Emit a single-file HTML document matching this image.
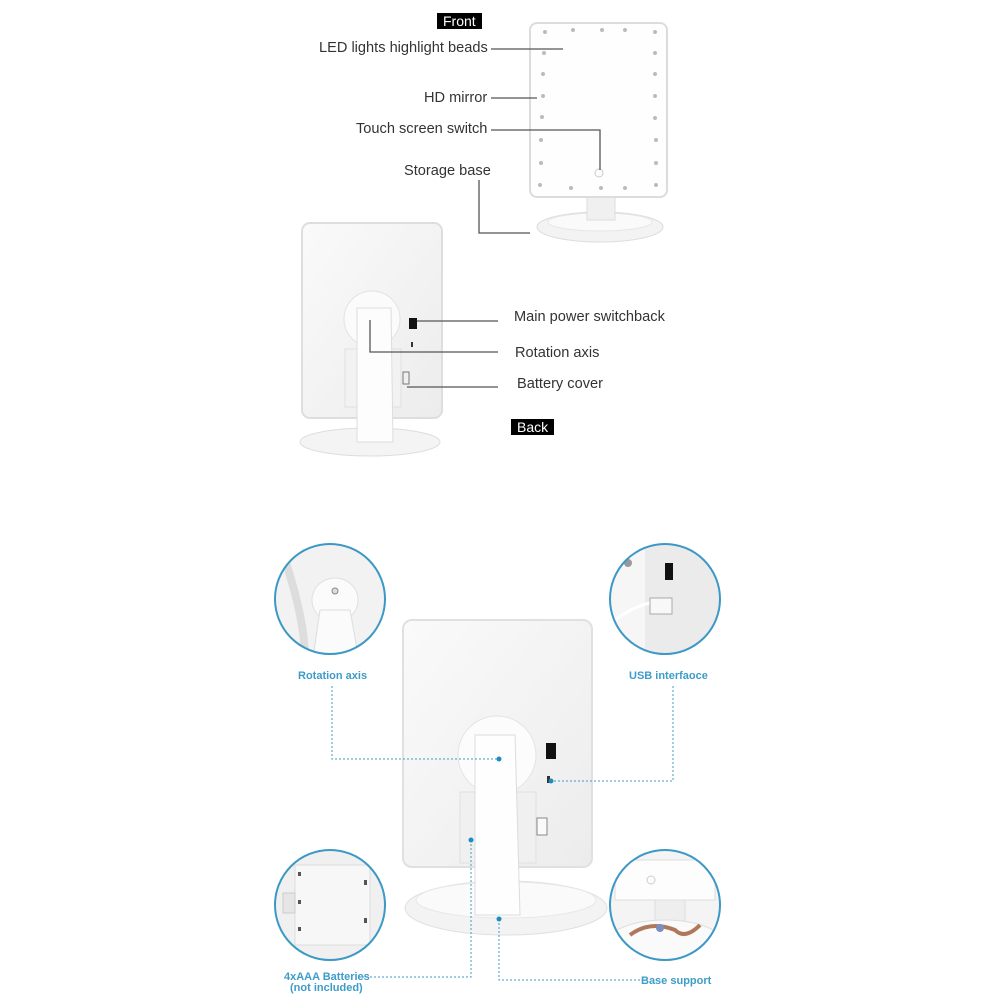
<!DOCTYPE html>
<html><head><meta charset="utf-8"><style>
body{margin:0;background:#fff;}
#c{position:relative;width:1000px;height:1000px;overflow:hidden;font-family:"Liberation Sans","DejaVu Sans",sans-serif;}
.t{position:absolute;font-size:14.6px;color:#333;white-space:nowrap;}
.b{position:absolute;font-size:11px;color:#3d9cc8;font-weight:bold;white-space:nowrap;}
.tag{position:absolute;background:#000;color:#fff;font-size:14px;padding:0 6px;line-height:16px;}
svg{position:absolute;left:0;top:0;}
</style></head><body><div id="c">
<svg width="1000" height="1000">
<defs>
<linearGradient id="g" x1="0" y1="0" x2="1" y2="1"><stop offset="0" stop-color="#fafafa"/><stop offset="1" stop-color="#ececec"/></linearGradient>
<clipPath id="c1"><circle cx="330" cy="599" r="55"/></clipPath>
<clipPath id="c2"><circle cx="665" cy="599" r="55"/></clipPath>
<clipPath id="c3"><circle cx="330" cy="905" r="55"/></clipPath>
<clipPath id="c4"><circle cx="665" cy="905" r="55"/></clipPath>
</defs>
<!-- front mirror -->
<ellipse cx="600" cy="227" rx="63" ry="15" fill="#f3f3f3" stroke="#ddd"/>
<ellipse cx="600" cy="222" rx="52" ry="9" fill="#fafafa" stroke="#e6e6e6"/>
<rect x="587" y="196" width="28" height="24" fill="#f0f0f0" stroke="#ddd"/>
<rect x="530" y="23" width="137" height="174" rx="7" fill="#fefefe" stroke="#dcdcdc" stroke-width="2"/>
<g fill="#bbb">
<circle cx="545" cy="32" r="2"/><circle cx="573" cy="30" r="2"/><circle cx="602" cy="30" r="2"/><circle cx="625" cy="30" r="2"/><circle cx="655" cy="32" r="2"/>
<circle cx="544" cy="53" r="2"/><circle cx="655" cy="53" r="2"/><circle cx="543" cy="74" r="2"/><circle cx="655" cy="74" r="2"/>
<circle cx="543" cy="96" r="2"/><circle cx="655" cy="96" r="2"/><circle cx="542" cy="117" r="2"/><circle cx="655" cy="118" r="2"/>
<circle cx="541" cy="140" r="2"/><circle cx="656" cy="140" r="2"/><circle cx="541" cy="163" r="2"/><circle cx="656" cy="163" r="2"/>
<circle cx="540" cy="185" r="2"/><circle cx="571" cy="188" r="2"/><circle cx="601" cy="188" r="2"/><circle cx="625" cy="188" r="2"/><circle cx="656" cy="185" r="2"/>
</g>
<circle cx="599" cy="173" r="4" fill="none" stroke="#ccc"/>
<g stroke="#555" stroke-width="1.3" fill="none">
<path d="M491 49H563"/><path d="M491 98H537"/><path d="M491 130H600V170"/><path d="M479 180V233H530"/>
</g>
<!-- back mirror -->
<ellipse cx="370" cy="442" rx="70" ry="14" fill="#f4f4f4" stroke="#ddd"/>
<rect x="302" y="223" width="140" height="195" rx="8" fill="url(#g)" stroke="#dedede" stroke-width="2"/>
<circle cx="372" cy="319" r="28" fill="#fbfbfb" stroke="#e2e2e2"/>
<rect x="345" y="349" width="56" height="58" fill="#f2f2f2" stroke="#e0e0e0"/>
<path d="M357 308h34l2 134h-36z" fill="#fdfdfd" stroke="#ddd"/>
<rect x="409" y="318" width="8" height="11" fill="#111"/>
<rect x="411" y="342" width="2" height="5" fill="#333"/>
<rect x="403" y="372" width="6" height="12" fill="none" stroke="#777"/>
<g stroke="#555" stroke-width="1.3" fill="none">
<path d="M417 321H498"/><path d="M370 320V352H498"/><path d="M407 387H498"/>
</g>
<!-- bottom big mirror -->
<ellipse cx="506" cy="908" rx="101" ry="27" fill="#f3f3f3" stroke="#e0e0e0"/>
<ellipse cx="506" cy="900" rx="90" ry="18" fill="#fafafa" stroke="#e8e8e8"/>
<rect x="403" y="620" width="189" height="247" rx="9" fill="url(#g)" stroke="#e0e0e0" stroke-width="2"/>
<circle cx="497" cy="755" r="39" fill="#fcfcfc" stroke="#e4e4e4"/>
<rect x="460" y="792" width="76" height="71" fill="#f0f0f0" stroke="#e0e0e0"/>
<path d="M475 735h40l5 180h-45z" fill="#fefefe" stroke="#dcdcdc"/>
<rect x="546" y="743" width="10" height="16" fill="#111"/>
<rect x="547" y="776" width="3" height="7" fill="#333"/>
<rect x="537" y="818" width="10" height="17" fill="#fafafa" stroke="#888"/>
<!-- circles -->
<g clip-path="url(#c1)"><rect x="270" y="540" width="120" height="120" fill="#f2f2f2"/><path d="M285 560q20 60 20 100" stroke="#ddd" stroke-width="8" fill="none"/><ellipse cx="335" cy="600" rx="23" ry="22" fill="#fbfbfb" stroke="#e0e0e0"/><path d="M320 610l30 0l10 55h-48z" fill="#fbfbfb" stroke="#ddd"/><circle cx="335" cy="591" r="3" fill="#ddd" stroke="#888"/></g>
<circle cx="330" cy="599" r="55" fill="none" stroke="#3c98c4" stroke-width="2"/>
<g clip-path="url(#c2)"><rect x="605" y="540" width="120" height="120" fill="#f6f6f6"/><rect x="645" y="540" width="80" height="120" fill="#ebebeb"/><rect x="665" y="563" width="8" height="17" fill="#111"/><path d="M615 620q20 -15 40 -18" stroke="#fff" stroke-width="3" fill="none"/><rect x="650" y="598" width="22" height="16" fill="#f8f8f8" stroke="#aaa"/><circle cx="628" cy="563" r="4" fill="#999"/></g>
<circle cx="665" cy="599" r="55" fill="none" stroke="#3c98c4" stroke-width="2"/>
<g clip-path="url(#c3)"><rect x="270" y="845" width="120" height="120" fill="#f0f0f0"/><rect x="295" y="865" width="75" height="80" fill="#f7f7f7" stroke="#ddd"/><rect x="283" y="893" width="12" height="20" fill="#e6e6e6" stroke="#ccc"/><g fill="#555"><rect x="298" y="872" width="3" height="4"/><rect x="298" y="900" width="3" height="4"/><rect x="298" y="927" width="3" height="4"/><rect x="364" y="880" width="3" height="5"/><rect x="364" y="918" width="3" height="5"/></g></g>
<circle cx="330" cy="905" r="55" fill="none" stroke="#3c98c4" stroke-width="2"/>
<g clip-path="url(#c4)"><rect x="605" y="845" width="120" height="120" fill="#f4f4f4"/><rect x="615" y="860" width="100" height="40" fill="#fdfdfd" stroke="#ddd"/><rect x="655" y="900" width="30" height="25" fill="#eee" stroke="#ddd"/><ellipse cx="665" cy="945" rx="60" ry="25" fill="#fafafa" stroke="#ddd"/><path d="M630 935q20 -15 45 -5q10 10 25 -5" stroke="#b0785a" stroke-width="4" fill="none"/><circle cx="660" cy="928" r="4" fill="#7a8fc0"/><circle cx="651" cy="880" r="4" fill="none" stroke="#ccc"/></g>
<circle cx="665" cy="905" r="55" fill="none" stroke="#3c98c4" stroke-width="2"/>
<!-- dotted connectors -->
<g stroke="#3d9cc8" stroke-width="1" stroke-dasharray="2,2" fill="none">
<path d="M332 686V759H499"/><path d="M673 686V781H551"/><path d="M471 840V977H362"/><path d="M499 919V980H640"/>
</g>
<g fill="#1e8bc3"><circle cx="499" cy="759" r="2.5"/><circle cx="551" cy="781" r="2.5"/><circle cx="471" cy="840" r="2.5"/><circle cx="499" cy="919" r="2.5"/></g>
</svg>
<div class="tag" style="left:437px;top:13px;">Front</div>
<div class="t" style="left:319px;top:40px;">LED lights highlight beads</div>
<div class="t" style="left:424px;top:90px;">HD mirror</div>
<div class="t" style="left:356px;top:121px;">Touch screen switch</div>
<div class="t" style="left:404px;top:163px;">Storage base</div>
<div class="t" style="left:514px;top:309px;">Main power switchback</div>
<div class="t" style="left:515px;top:345px;">Rotation axis</div>
<div class="t" style="left:517px;top:376px;">Battery cover</div>
<div class="tag" style="left:511px;top:419px;">Back</div>
<div class="b" style="left:298px;top:670px;">Rotation axis</div>
<div class="b" style="left:629px;top:670px;">USB interfaoce</div>
<div class="b" style="left:284px;top:971px;">4xAAA Batteries</div>
<div class="b" style="left:290px;top:982px;">(not included)</div>
<div class="b" style="left:641px;top:975px;">Base support</div>
</div></body></html>
